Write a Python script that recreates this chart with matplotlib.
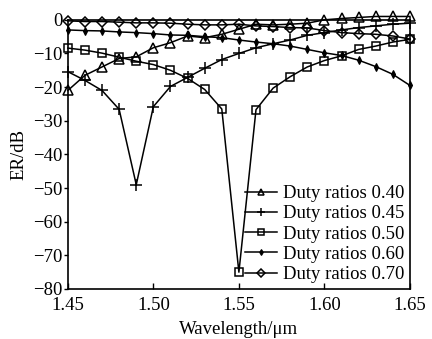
import numpy as np
import matplotlib
matplotlib.use('Agg')
import matplotlib.pyplot as plt

plt.rcParams['font.family'] = ['Liberation Serif', 'DejaVu Serif']

# wavelength samples (um)
wavelength = [1.45, 1.46, 1.47, 1.48, 1.49, 1.50, 1.51, 1.52, 1.53, 1.54, 1.55,
              1.56, 1.57, 1.58, 1.59, 1.60, 1.61, 1.62, 1.63, 1.64, 1.65]

# extinction ratio (dB) for each duty ratio
er_040 = [-21, -16.5, -14, -11.5, -11, -8.3, -6.8, -4.8, -5.3, -4.3, -2.8,
          -1.3, -1.5, -1.3, -1.0, 0, 0.4, 0.7, 1.0, 1.0, 1.0]
er_045 = [-15.4, -18, -21, -26.6, -49, -25.8, -19.8, -17.1, -14.4, -11.8, -10,
          -8.3, -7.1, -6, -4.6, -3.8, -3, -2.3, -1.8, -1.3, -1.0]
er_050 = [-8.4, -9, -9.9, -11.1, -12.3, -13.3, -15, -17.4, -20.7, -26.5, -75,
          -26.7, -20.3, -16.9, -14, -12.1, -10.7, -8.8, -7.8, -6.6, -5.8]
er_060 = [-3.0, -3.2, -3.3, -3.6, -3.8, -4.1, -4.5, -4.6, -5.0, -5.3, -6.0,
          -6.6, -7.1, -7.8, -8.8, -9.8, -10.6, -12, -13.9, -16.2, -19.5]
er_070 = [-0.3, -0.5, -0.5, -0.7, -0.9, -0.9, -1.0, -1.3, -1.5, -1.5, -1.3,
          -1.8, -2.0, -2.3, -2.4, -3.2, -3.8, -4.1, -4.3, -4.8, -5.7]

labels = ['Duty ratios 0.40', 'Duty ratios 0.45', 'Duty ratios 0.50',
          'Duty ratios 0.60', 'Duty ratios 0.70']

fig = plt.figure(figsize=(4.32, 3.39), dpi=100)
ax = fig.add_axes([0.157, 0.1475, 0.792, 0.794])

kw = dict(color='black', lw=1.1, clip_on=False)
ax.plot(wavelength, er_040, marker='^', ms=6.5, mfc='none', mew=1.1, label=labels[0], **kw)
ax.plot(wavelength, er_045, marker='+', ms=8, mew=1.1, label=labels[1], **kw)
ax.plot(wavelength, er_050, marker='s', ms=5.5, mfc='none', mew=1.1, label=labels[2], **kw)
ax.plot(wavelength, er_060, marker='d', ms=4, mfc='black', mew=0.8, label=labels[3], **kw)
ax.plot(wavelength, er_070, marker='D', ms=5.5, mfc='none', mew=1.1, label=labels[4], **kw)

ax.set_xlim(1.45, 1.65)
ax.set_ylim(-80, 0)
ax.set_xticks([1.45, 1.50, 1.55, 1.60, 1.65])
ax.set_xticklabels(['1.45', '1.50', '1.55', '1.60', '1.65'])
ax.set_yticks(np.arange(-80, 1, 10))
ax.tick_params(axis='x', direction='in', length=4, width=1, labelsize=13.5, pad=6)
ax.tick_params(axis='y', direction='out', length=3, width=1, labelsize=13.5, pad=1)
for s in ax.spines.values():
    s.set_linewidth(1.2)

ax.set_xlabel('Wavelength/\u03bcm', fontsize=13.5, labelpad=5)
ax.set_ylabel('ER/dB', fontsize=13.5, labelpad=4)

ax.legend(loc='lower right', frameon=False, fontsize=13.5, handlelength=1.7,
          handletextpad=0.3, labelspacing=0.17, borderaxespad=0.1, borderpad=0.2,
          markerscale=0.75)

fig.savefig('out.png', dpi=100)
